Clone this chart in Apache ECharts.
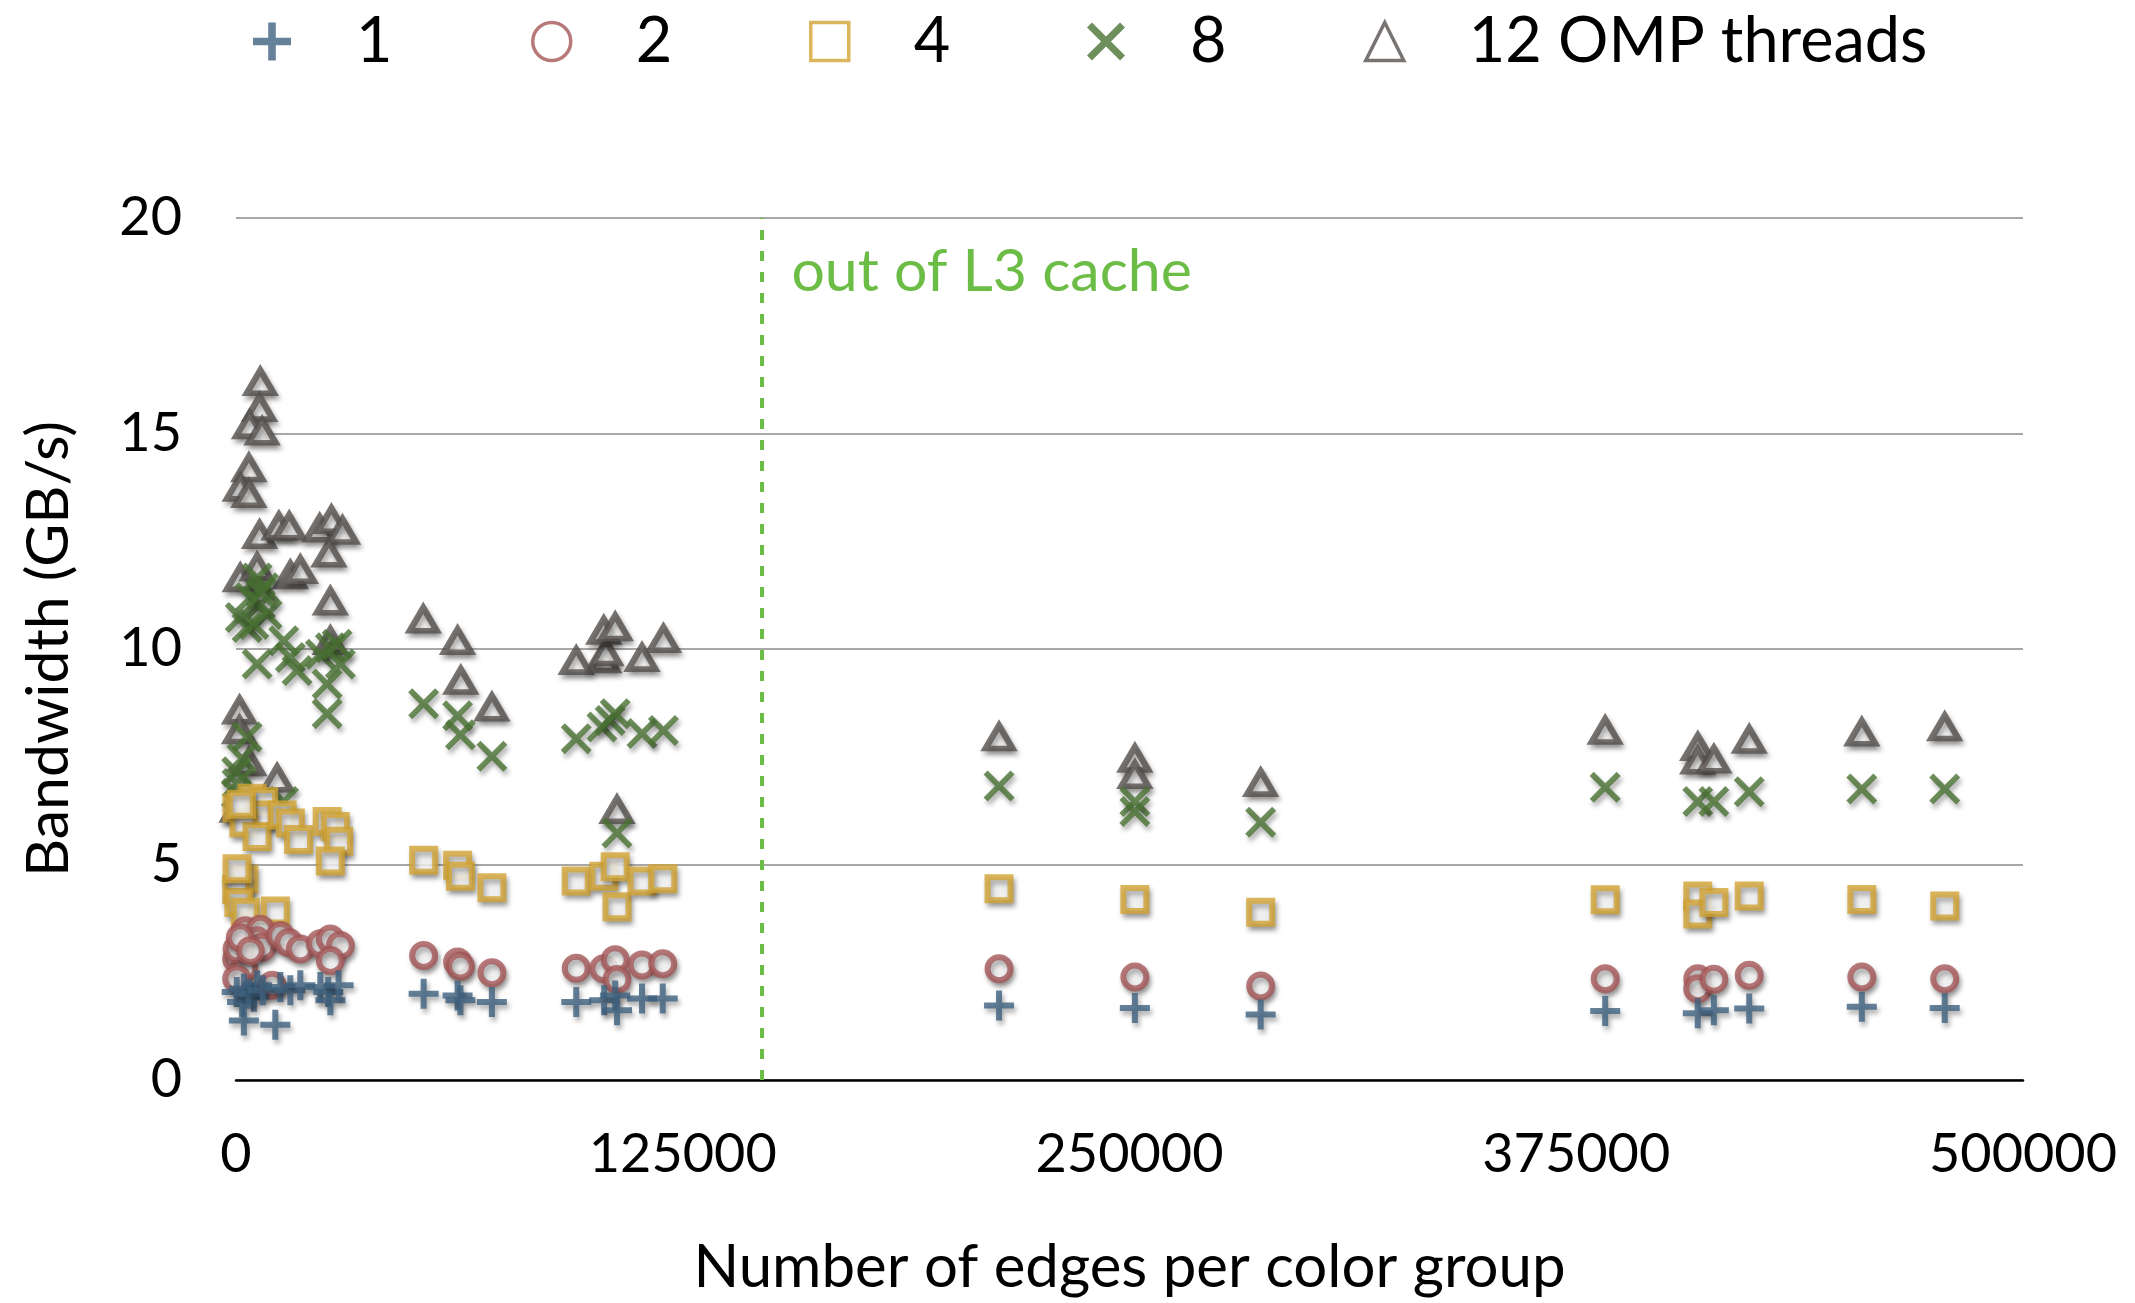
<!DOCTYPE html>
<html>
<head>
<meta charset="utf-8">
<script src="https://cdn.jsdelivr.net/npm/echarts@6/dist/echarts.min.js"></script>
<style>
  html, body { margin: 0; padding: 0; background: #ffffff; }
  #chart { width: 2135px; height: 1303px; }
</style>
</head>
<body>
<div id="chart"></div>
<script>
// Measured bandwidth (GB/s) against edges per color group, one list per thread count.
const seriesNames = ['1', '2', '4', '8', '12 OMP threads'];

const threads1 = [
  [200, 2.04], [2200, 2.12], [5900, 2.2], [5000, 1.93], [1700, 1.81], [3500, 2.0], [7500, 2.08],
  [12400, 2.16], [15200, 2.08], [18000, 2.2], [23600, 2.16], [25800, 2.04], [26400, 1.85], [28700, 2.2],
  [2200, 1.38], [11000, 1.28],
  [52500, 2.0], [62000, 1.96], [62800, 1.85], [71600, 1.81],
  [95200, 1.81], [103000, 1.85], [106100, 1.96], [106600, 1.62], [113600, 1.89], [119400, 1.89],
  [213500, 1.73], [251500, 1.67], [286700, 1.52], [383100, 1.6], [409000, 1.55], [413500, 1.62],
  [423400, 1.66], [454900, 1.7], [478100, 1.67]
];

const threads2 = [
  [2600, 3.46], [6800, 3.5], [5900, 3.23], [7300, 3.08], [12400, 3.35], [14750, 3.19], [18000, 3.04],
  [23600, 3.16], [26400, 3.27], [29200, 3.12], [26400, 2.77], [200, 2.81], [2200, 2.58], [300, 3.04],
  [200, 2.35], [10100, 2.2], [1200, 3.3], [4000, 3.0],
  [52500, 2.89], [62000, 2.74], [62800, 2.64], [71600, 2.49],
  [95200, 2.59], [102900, 2.58], [106100, 2.79], [106600, 2.33], [113600, 2.67], [119400, 2.7],
  [213500, 2.58], [251500, 2.39], [286700, 2.18], [383100, 2.35], [409000, 2.35], [409000, 2.12],
  [413500, 2.34], [423400, 2.43], [454900, 2.39], [478100, 2.35]
];

const threads4 = [
  [4500, 6.54], [7750, 6.46], [6800, 6.15], [300, 6.31], [2200, 5.96], [5900, 5.65], [12900, 6.15],
  [15200, 5.96], [17500, 5.58], [25500, 6.0], [27800, 5.88], [28700, 5.54], [26400, 5.08], [2200, 4.66],
  [200, 4.42], [800, 4.12], [2600, 3.89], [11000, 3.92], [300, 4.9], [1500, 6.4],
  [52500, 5.1], [62000, 4.98], [62800, 4.73], [71600, 4.46],
  [95200, 4.62], [102900, 4.73], [106100, 4.95], [106600, 4.02], [113600, 4.62], [119400, 4.67],
  [213500, 4.44], [251500, 4.19], [286700, 3.89], [383100, 4.18], [409000, 4.27], [409000, 3.85],
  [413500, 4.12], [423400, 4.27], [454900, 4.19], [478100, 4.04]
];

const threads8 = [
  [5900, 11.65], [7750, 11.42], [4000, 11.19], [6800, 11.03], [8700, 10.8], [1200, 10.73], [3100, 10.5],
  [5000, 10.57], [7000, 11.3], [13350, 10.19], [5900, 9.65], [15200, 9.8], [17100, 9.5], [23600, 9.88],
  [26400, 10.03], [28300, 10.11], [29200, 9.65], [25500, 9.19], [25500, 8.5],
  [3100, 7.96], [1700, 7.46], [200, 7.15], [300, 6.88], [100, 6.65], [13300, 6.46],
  [52500, 8.73], [62000, 8.45], [62800, 8.01], [71600, 7.51],
  [95200, 7.92], [102400, 8.19], [104700, 8.34], [106100, 8.5], [113600, 8.04], [119600, 8.11], [106600, 5.73],
  [213500, 6.82], [251500, 6.46], [251500, 6.23], [286700, 5.98], [383100, 6.79], [409000, 6.46],
  [413500, 6.46], [423400, 6.69], [454900, 6.75], [478100, 6.75]
];

const threads12 = [
  [6800, 16.2], [6600, 15.6], [3800, 15.2], [7300, 15.05], [3600, 14.2], [1200, 13.75], [3600, 13.6],
  [6600, 12.65], [12000, 12.85], [14900, 12.85], [23400, 12.8], [26700, 13.0], [29800, 12.75], [26000, 12.22],
  [1200, 11.65], [5900, 11.9], [15200, 11.72], [18000, 11.84], [26400, 11.11], [26400, 10.19],
  [1000, 8.58], [1000, 8.12], [3600, 7.38], [11500, 7.0], [300, 6.3],
  [52400, 10.69], [62000, 10.19], [62900, 9.27], [71600, 8.65],
  [95200, 9.73], [102900, 9.77], [103500, 9.93], [102900, 10.43], [106100, 10.51], [113600, 9.8],
  [119600, 10.24], [106600, 6.27],
  [213500, 7.96], [251500, 7.46], [251500, 7.08], [286700, 6.9], [383100, 8.11], [409000, 7.73],
  [409000, 7.42], [413500, 7.44], [423400, 7.9], [454900, 8.07], [478100, 8.19]
];

// Edge count where the working set no longer fits in the L3 cache
const l3Limit = 147000;
const l3Label = 'out of L3 cache';

// Axis ranges
const xMax = 500000, xStep = 125000;
const yMax = 20, yStep = 5;

const FONT = 'Lato, "Open Sans", sans-serif';
const PLUS = 'path://M40,0H60V40H100V60H60V100H40V60H0V40H40Z';
const CROSS = 'path://M0,13L13,0L50,37L87,0L100,13L63,50L100,87L87,100L50,63L13,100L0,87L37,50Z';

const shadow = {
  shadowBlur: 5,
  shadowColor: 'rgba(0,0,0,0.4)',
  shadowOffsetX: 2,
  shadowOffsetY: 4
};

const styles = [
  { data: threads1, symbol: PLUS, size: 30, itemStyle: { color: '#3f6280' }, z: 7 },
  { data: threads2, symbol: 'circle', size: 23, itemStyle: { color: '#ffffff', borderColor: '#a55858', borderWidth: 6 }, z: 6 },
  { data: threads4, symbol: 'rect', size: 23, itemStyle: { color: '#ffffff', borderColor: '#d2a433', borderWidth: 6 }, z: 5 },
  { data: threads8, symbol: CROSS, size: 31, itemStyle: { color: '#4a7233' }, z: 4 },
  { data: threads12, symbol: 'triangle', size: [27, 23], itemStyle: { color: '#ffffff', borderColor: '#56514f', borderWidth: 6 }, z: 3 }
];

const series = styles.map((s, i) => ({
  name: seriesNames[i],
  type: 'scatter',
  data: s.data,
  symbol: s.symbol,
  symbolSize: s.size,
  z: s.z,
  itemStyle: Object.assign({}, s.itemStyle, shadow),
  emphasis: { disabled: true }
}));

// Dashed cache boundary and its caption
series[4].markLine = {
  silent: true,
  symbol: ['none', 'none'],
  label: { show: false },
  lineStyle: { color: '#6cbd45', width: 4, type: [10, 11] },
  data: [{ xAxis: l3Limit }]
};
series[4].markPoint = {
  silent: true,
  symbol: 'circle',
  symbolSize: 0,
  itemStyle: { color: 'transparent' },
  label: {
    show: true,
    position: 'right',
    distance: 30,
    formatter: l3Label,
    color: '#6cbd45',
    fontSize: 59,
    fontFamily: FONT
  },
  data: [{ coord: [l3Limit, 18.75] }]
};

// One legend block per series, spaced evenly across the top
const legendCenters = [272, 550, 828, 1106, 1383];
const legends = seriesNames.map((n, i) => ({
  data: [n],
  left: legendCenters[i] - 19,
  top: 10,
  padding: 0,
  itemWidth: 38,
  itemHeight: 38,
  selectedMode: false,
  itemStyle: { shadowBlur: 0, shadowOffsetX: 0, shadowOffsetY: 0, borderWidth: i === 1 || i === 2 || i === 4 ? 3.5 : 0 },
  textStyle: { fontSize: 63, color: '#000', fontFamily: FONT, padding: [0, 0, 0, 60] }
}));

const chart = echarts.init(document.getElementById('chart'), null, { renderer: 'canvas' });
chart.setOption({
  animation: false,
  backgroundColor: '#ffffff',
  legend: legends,
  grid: { left: 236, right: 112, top: 218, bottom: 218, containLabel: false },
  xAxis: {
    type: 'value',
    min: 0,
    max: xMax,
    interval: xStep,
    name: 'Number of edges per color group',
    nameLocation: 'middle',
    nameGap: 158,
    nameTextStyle: { fontSize: 60, color: '#000', fontFamily: FONT },
    axisLine: { show: true, lineStyle: { color: '#000', width: 2.5 } },
    axisTick: { show: false },
    splitLine: { show: false },
    axisLabel: { fontSize: 54, color: '#000', fontFamily: FONT, margin: 48, formatter: v => String(v) }
  },
  yAxis: {
    type: 'value',
    min: 0,
    max: yMax,
    interval: yStep,
    name: 'Bandwidth (GB/s)',
    nameLocation: 'middle',
    nameGap: 158,
    nameTextStyle: { fontSize: 59, color: '#000', fontFamily: FONT },
    axisLine: { show: false },
    axisTick: { show: false },
    splitLine: { show: true, lineStyle: { color: '#a8a8a8', width: 2 } },
    axisLabel: { fontSize: 54, color: '#000', fontFamily: FONT, margin: 54 }
  },
  series: series
});
</script>
</body>
</html>
